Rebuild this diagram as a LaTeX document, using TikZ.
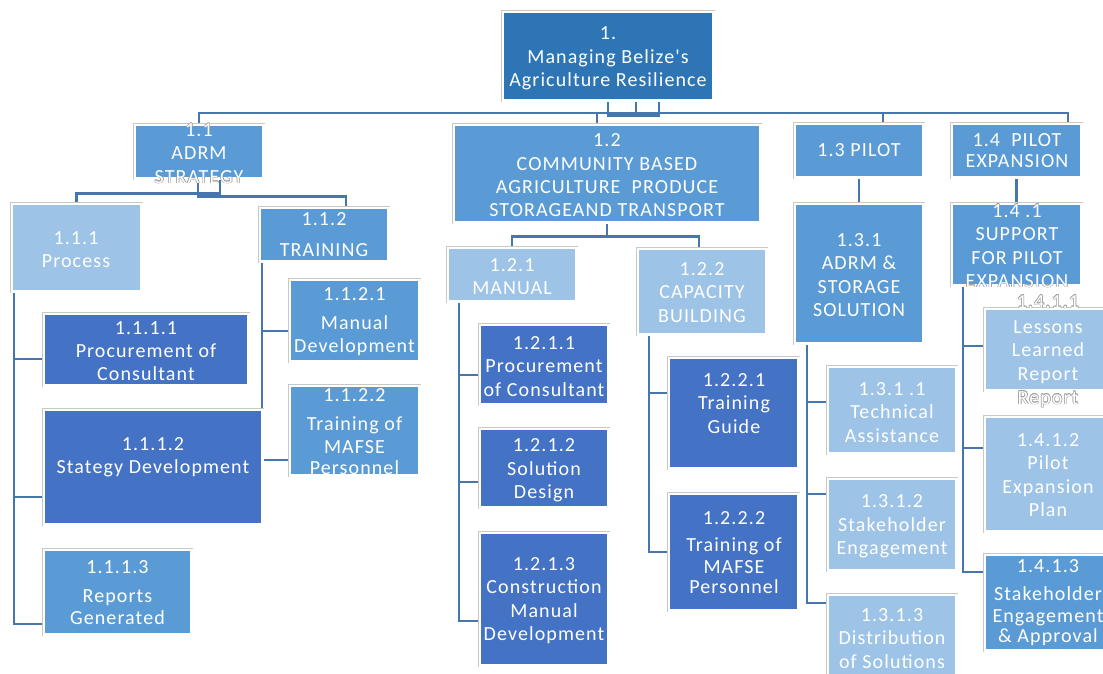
\documentclass[tikz,border=0pt]{standalone}
\usepackage{fontspec}
\setmainfont{Carlito}[LetterSpace=5.5,Ligatures=TeXOff]
\definecolor{cTop}{RGB}{46,117,182}
\definecolor{cMid}{RGB}{91,155,213}
\definecolor{cLight}{RGB}{157,195,230}
\definecolor{cDark}{RGB}{68,114,196}
\definecolor{cLine}{RGB}{70,118,172}
\definecolor{cEdge}{RGB}{200,200,200}
\pgfdeclarelayer{bg}
\pgfsetlayers{bg,main}
\tikzset{
  box/.style={draw=white, line width=2.6pt, inner sep=0pt, outer sep=0pt,
    preaction={draw=cEdge, line width=3.6pt}},
  lbl/.style={text=white, align=center, inner sep=0pt, yshift=-1.5pt,
    font=\fontsize{20}{23.3}\selectfont},
  conn/.style={draw=cLine, line width=2.8pt, line cap=rect},
}
% box: name, colour, x1, y1, x2, y2 (outer edges)
\newcommand\wbsbox[6]{%
  \node[box, fill=#2, minimum width={#5-#3-3.6}, minimum height={#6-#4-3.6}]
    (#1) at ({(#3+#5)/2},{(#4+#6)/2}) {};}
% label whose letters carry a grey rim where they leave their box
\newcommand\halolabel[4]{%
  \begin{scope}[even odd rule]
    \clip (-20,-20) rectangle (1130,700)
      ([shift={(1.3pt,-1.3pt)}]#2.north west) rectangle ([shift={(-1.3pt,1.3pt)}]#2.south east);
    \foreach \dx/\dy in {-0.6/0,0.6/0,0/-0.6,0/0.6,-0.45/-0.45,0.45/0.45,-0.45/0.45,0.45/-0.45}
      \node[lbl, text=black!38] at ([shift={(\dx pt,\dy pt)}]#3) {#4};
  \end{scope}
  \node[lbl] (#1) at (#3) {#4};}
\begin{document}
\begin{tikzpicture}[x=1pt,y=-1pt]
\useasboundingbox (0,0) rectangle (1103,673);

% ---- boxes ----
\wbsbox{b1}{cTop}{501}{10}{715}{102}
\wbsbox{b11}{cMid}{133}{123}{265}{180}
\wbsbox{b12}{cMid}{452}{123}{762}{224}
\wbsbox{b13}{cMid}{793}{122}{925}{179}
\wbsbox{b14}{cMid}{950}{122}{1083}{179}
\wbsbox{b111}{cLight}{10}{202}{143}{293}
\wbsbox{b112}{cMid}{258}{206}{390}{263}
\wbsbox{b1111}{cDark}{42}{312}{250}{387}
\wbsbox{b1112}{cDark}{42}{408}{264}{526}
\wbsbox{b1113}{cMid}{42}{548}{193}{636}
\wbsbox{b1121}{cMid}{288}{278}{421}{363}
\wbsbox{b1122}{cMid}{288}{384}{421}{477}
\wbsbox{b121}{cLight}{446}{246}{578}{303}
\wbsbox{b122}{cLight}{636}{247}{768}{336}
\wbsbox{b1211}{cDark}{478}{323}{610}{406}
\wbsbox{b1212}{cDark}{478}{427}{610}{509}
\wbsbox{b1213}{cDark}{478}{531}{610}{667}
\wbsbox{b1221}{cDark}{667}{356}{800}{470}
\wbsbox{b1222}{cDark}{667}{492}{800}{612}
\wbsbox{b131}{cMid}{793}{202}{925}{345}
\wbsbox{b1311}{cLight}{826}{365}{958}{455}
\wbsbox{b1312}{cLight}{826}{477}{958}{572}
\wbsbox{b1313}{cLight}{826}{593}{958}{690}
\wbsbox{b141}{cMid}{950}{202}{1083}{287}
\wbsbox{b1411}{cLight}{983}{307}{1115}{392}
\wbsbox{b1412}{cLight}{983}{415}{1115}{533}
\wbsbox{b1413}{cMid}{983}{553}{1115}{652}

% ---- connectors ----
\coordinate (busR) at (1068,113);
\begin{pgfonlayer}{bg}
  \draw[conn] (b1.south) -- ++(0,15) -- ++(51,0);
  \draw[conn] ([xshift=28pt]b1.south) -- ++(0,15);
  \draw[conn] ([xshift=51pt]b1.south) -- ++(0,15);
  \draw[conn] (b11.north) |- (busR) -- (b14.north -| busR);
  \draw[conn] ([xshift=-10pt]b12.north) |- (busR);
  \draw[conn] ([xshift=24pt]b13.north) |- (busR);
  % 1.1
  \draw[conn] ([xshift=21pt]b11.south) -- ++(0,15) -| (b111.north);
  \draw[conn] ([xshift=-1pt]b11.south) -- ++(0,18) -| ([xshift=22pt]b112.north);
  \draw[conn] ([xshift=2.2pt]b111.south west) |- ([yshift=-9.5pt]b1111.west);
  \draw[conn] ([xshift=2.2pt]b111.south west) |- ([yshift=-30pt]b1112.west);
  \draw[conn] ([xshift=2.2pt]b111.south west) |- ([yshift=-32pt]b1113.west);
  \draw[conn] ([xshift=2.2pt]b112.south west) |- ([yshift=-10.5pt]b1121.west);
  \draw[conn] ([xshift=2.2pt]b112.south west) |- ([yshift=-29.5pt]b1122.west);
  % 1.2
  \draw[conn] (b12.south) -- ++(0,14) -| (b121.north);
  \draw[conn] (b12.south) -- ++(0,14) -| ([xshift=-3pt]b122.north);
  \draw[conn] ([xshift=11.2pt]b121.south west) |- ([yshift=-10.5pt]b1211.west);
  \draw[conn] ([xshift=11.2pt]b121.south west) |- ([yshift=-14pt]b1212.west);
  \draw[conn] ([xshift=11.2pt]b121.south west) |- ([yshift=-22pt]b1213.west);
  \draw[conn] ([xshift=11.2pt]b122.south west) |- ([yshift=20pt]b1221.west);
  \draw[conn] ([xshift=11.2pt]b122.south west) |- (b1222.west);
  % 1.3
  \draw[conn] (b13.south) -- (b131.north);
  \draw[conn] ([xshift=12.2pt]b131.south west) |- ([yshift=8pt]b1311.west);
  \draw[conn] ([xshift=12.2pt]b131.south west) |- ([yshift=30.5pt]b1312.west);
  \draw[conn] ([xshift=12.2pt]b131.south west) |- ([yshift=38.5pt]b1313.west);
  % 1.4
  \draw[conn] (b14.south) -- (b141.north);
  \draw[conn] ([xshift=11.2pt]b141.south west) |- ([yshift=3.5pt]b1411.west);
  \draw[conn] ([xshift=11.2pt]b141.south west) |- ([yshift=26pt]b1412.west);
  \draw[conn] ([xshift=11.2pt]b141.south west) |- ([yshift=30.5pt]b1413.west);
\end{pgfonlayer}

% ---- labels ----
\node[lbl] (t1) at (608,57) {1.\\Managing Belize's\\Agriculture Resilience};
\halolabel{t11}{b11}{199,152}{1.1\\ADRM\\STRATEGY}
\node[lbl] (t12) at (607,174) {1.2\\COMMUNITY BASED\\AGRICULTURE\ \ PRODUCE\\STORAGEAND TRANSPORT};
\node[lbl] (t13) at (859,149) {1.3 PILOT};
\node[lbl] (t14) at (1017,149) {1.4\ \ PILOT\\[-3pt]EXPANSION};
\node[lbl] (t111) at (76,248) {1.1.1\\Process};
\node[lbl] (t112) at (324,233) {1.1.2\\[7pt]TRAINING};
\node[lbl] (t1111) at (146,349.5) {1.1.1.1\\Procurement of\\Consultant};
\node[lbl] (t1112) at (153,456) {1.1.1.2\\Stategy Development};
\node[lbl] (t1113) at (117.5,591) {1.1.1.3\\[6pt]Reports\\[-1pt]Generated};
\node[lbl] (t1121) at (354.5,320) {1.1.2.1\\[6pt]Manual\\[-1pt]Development};
\node[lbl] (t1122) at (354.5,430) {1.1.2.2\\[6pt]Training of\\[-1pt]MAFSE\\[-2pt]Personnel};
\node[lbl] (t121) at (512,275) {1.2.1\\MANUAL};
\node[lbl] (t122) at (702,291) {1.2.2\\CAPACITY\\BUILDING};
\node[lbl] (t1211) at (544,365) {1.2.1.1\\Procurement\\of Consultant};
\node[lbl] (t1212) at (544,469) {1.2.1.2\\Solution\\Design};
\node[lbl] (t1213) at (544,599) {1.2.1.3\\Construction\\Manual\\Development};
\node[lbl] (t1221) at (734,402) {1.2.2.1\\Training\\Guide};
\node[lbl] (t1222) at (734,551) {1.2.2.2\\[4pt]Training of\\[-2pt]MAFSE\\[-3pt]Personnel};
\node[lbl] (t131) at (859,273.5) {1.3.1\\ADRM \&\\STORAGE\\SOLUTION};
\halolabel{t141}{b141}{1017,244.5}{1.4 .1\\SUPPORT\\FOR PILOT\\EXPANSION}
\node[lbl] (t1311) at (892,411) {1.3.1 .1\\Technical\\Assistance};
\node[lbl] (t1312) at (892,525) {1.3.1.2\\Stakeholder\\Engagement};
\node[lbl] (t1313) at (892,637) {1.3.1.3\\Distribution\\of Solutions};
\halolabel{t1411}{b1411}{1048,338}{1.4.1.1\\[2pt]Lessons\\Learned\\Report}
\halolabel{t1411b}{b1411}{1048,398}{Report}
\node[lbl] (t1412) at (1048,473.5) {1.4.1.2\\Pilot\\Expansion\\Plan};
\node[lbl] (t1413) at (1048,601) {1.4.1.3\\[5pt]Stakeholder\\[-2pt]Engagement\\[-3pt]\&\ Approval};
\end{tikzpicture}
\end{document}
